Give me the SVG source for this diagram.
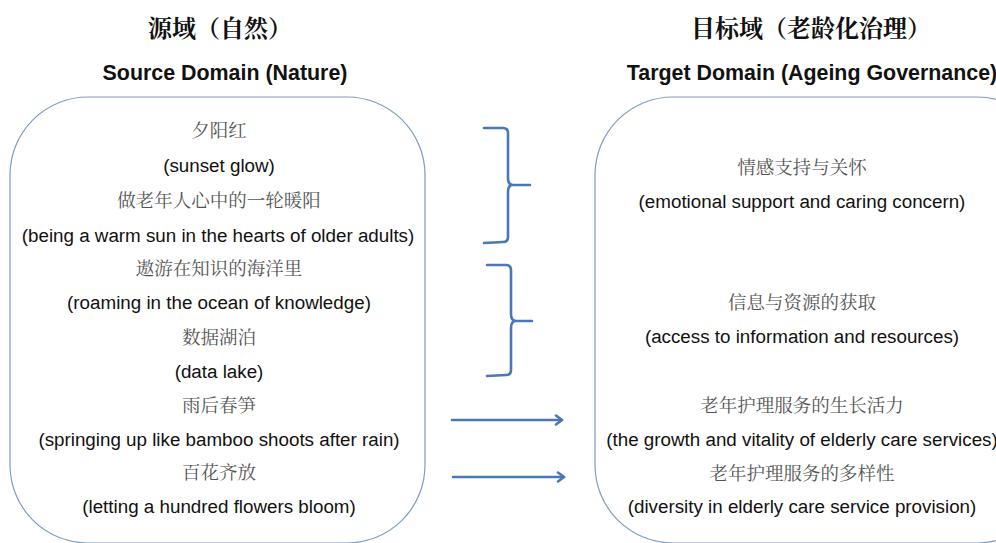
<svg xmlns="http://www.w3.org/2000/svg" width="996" height="543" viewBox="0 0 996 543">
<defs>
<style>
.box{fill:#fff;stroke:#7f9cc6;stroke-width:1.2}
.zh{font-family:"Noto Serif CJK SC","Noto Sans CJK SC",serif;font-size:18.5px;fill:#555;text-anchor:middle}
.en{font-family:"Liberation Sans",Arial,sans-serif;font-size:18.8px;fill:#111;text-anchor:middle}
.tz{font-family:"Noto Serif CJK SC","Noto Sans CJK SC",serif;font-size:24px;fill:#111;text-anchor:middle;font-weight:bold}
.te{font-family:"Liberation Sans",Arial,sans-serif;font-size:21.4px;font-weight:bold;fill:#111;text-anchor:middle}
.con{fill:none;stroke:#4a78b6;stroke-width:2.6;stroke-linecap:round;stroke-linejoin:round}
</style>
<marker id="ah" viewBox="0 0 12 12" refX="10" refY="6" markerWidth="12" markerHeight="12" orient="auto" markerUnits="userSpaceOnUse">
<path d="M4,1.5 L10,6 L4,10.5" fill="none" stroke="#4a78b6" stroke-width="2.6" stroke-linecap="round" stroke-linejoin="round"/>
</marker>
</defs>
<rect width="996" height="543" fill="#fff"/>
<g id="titles">
<text class="tz" x="220" y="37">源域（自然）</text>
<text class="te" x="225" y="80">Source Domain (Nature)</text>
<text class="tz" x="811" y="37">目标域（老龄化治理）</text>
<text class="te" x="812" y="80">Target Domain (Ageing Governance)</text>
</g>
<g id="source">
<rect class="box" x="10" y="97" width="415" height="446" rx="78" ry="78"/>
<text class="zh" x="219" y="137">夕阳红</text>
<text class="en" x="219" y="172">(sunset glow)</text>
<text class="zh" x="219" y="207">做老年人心中的一轮暖阳</text>
<text class="en" x="218" y="242">(being a warm sun in the hearts of older adults)</text>
<text class="zh" x="219" y="275">遨游在知识的海洋里</text>
<text class="en" x="219" y="309">(roaming in the ocean of knowledge)</text>
<text class="zh" x="219" y="344">数据湖泊</text>
<text class="en" x="219" y="378">(data lake)</text>
<text class="zh" x="219" y="412">雨后春笋</text>
<text class="en" x="219" y="446">(springing up like bamboo shoots after rain)</text>
<text class="zh" x="219" y="479">百花齐放</text>
<text class="en" x="219" y="513">(letting a hundred flowers bloom)</text>
</g>
<g id="target">
<rect class="box" x="595" y="97" width="460" height="446" rx="78" ry="78"/>
<text class="zh" x="802" y="174">情感支持与关怀</text>
<text class="en" x="802" y="208">(emotional support and caring concern)</text>
<text class="zh" x="802" y="309">信息与资源的获取</text>
<text class="en" x="802" y="343">(access to information and resources)</text>
<text class="zh" x="802" y="412">老年护理服务的生长活力</text>
<text class="en" x="802" y="446">(the growth and vitality of elderly care services)</text>
<text class="zh" x="802" y="480">老年护理服务的多样性</text>
<text class="en" x="802" y="513">(diversity in elderly care service provision)</text>
</g>
<g id="connectors">
<path class="con" d="M484,128 L503,128 Q508,128 508,133 L508,178 Q508,185 513,185 L530,185 M513,185 Q508,185 508,192 L508,237 Q508,242 503,242 L484,243"/>
<path class="con" d="M487,265 L506,265 Q511,265 511,270 L511,314 Q511,321 516,321 L532,321 M516,321 Q511,321 511,328 L511,370 Q511,375 506,375 L487,376"/>
<line class="con" x1="452" y1="420" x2="562" y2="420" marker-end="url(#ah)"/>
<line class="con" x1="453" y1="477" x2="564" y2="477" marker-end="url(#ah)"/>
</g>
</svg>
